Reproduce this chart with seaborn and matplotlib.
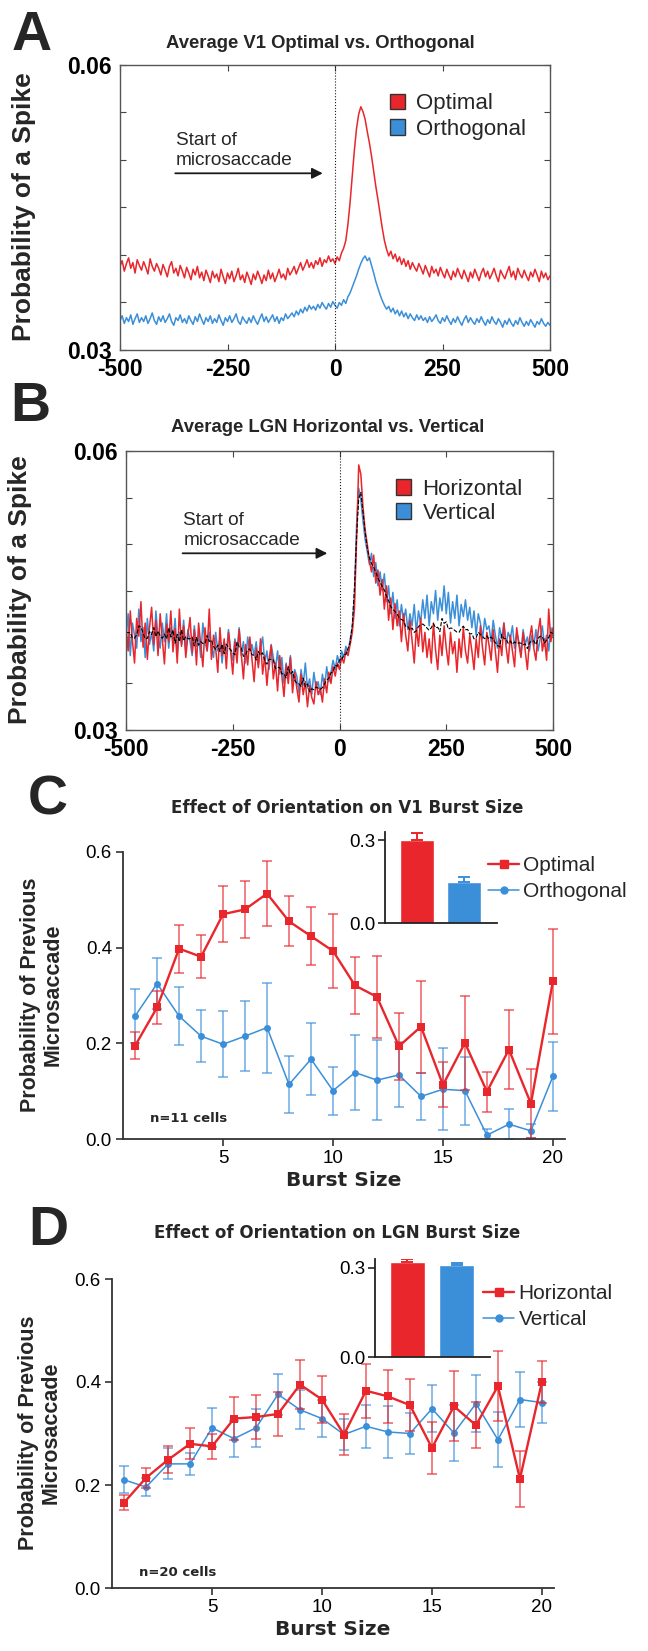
import numpy as np
import pandas as pd
import matplotlib
matplotlib.use('Agg')
import matplotlib.pyplot as plt
from matplotlib.patches import Patch
from matplotlib.lines import Line2D
import seaborn as sns

sns.set_theme(style='ticks')
plt.rcParams['font.family'] = ['Liberation Sans', 'DejaVu Sans']

RED = '#E8262B'
BLUE = '#3B8FD9'
WIDE = ['DejaVu Sans', 'Liberation Sans']

# ---- data -------------------------------------------------------------
time_ms = np.arange(-500, 501, 5)

# panel A, probability of a spike (x 1e-4), 5 ms bins
a_optimal = np.array([
    388, 394, 383, 391, 397, 386, 392, 381, 395, 389,
    384, 393, 387, 380, 396, 388, 383, 391, 386, 379,
    390, 384, 377, 388, 393, 381, 386, 378, 389, 383,
    376, 387, 381, 374, 385, 379, 388, 376, 382, 373,
    384, 378, 371, 383, 376, 380, 372, 385, 377, 370,
    381, 375, 383, 372, 378, 386, 374, 379, 371, 382,
    376, 369, 380, 374, 383, 377, 370, 379, 373, 384,
    375, 381, 372, 378, 385, 376, 380, 374, 386, 379,
    383, 388, 380, 386, 392, 384, 389, 395, 387, 392,
    386, 394, 390, 397, 388, 395, 392, 399, 393, 396,
    391, 398, 394, 402, 407, 415, 432, 455, 482, 510,
    533, 548, 556, 551, 543, 530, 518, 504, 488, 472,
    458, 443, 428, 415, 406, 399, 404, 396, 401, 393,
    398, 390, 396, 388, 394, 385, 392, 387, 383, 391,
    386, 380, 389, 383, 377, 388, 381, 385, 378, 387,
    381, 376, 385, 379, 374, 383, 377, 386, 380, 375,
    384, 378, 372, 382, 376, 385, 379, 373, 381, 386,
    377, 383, 375, 380, 386, 378, 372, 384, 379, 375,
    382, 388, 377, 383, 374, 386, 380, 376, 384, 378,
    373, 382, 377, 385, 379, 372, 383, 376, 381, 374,
    378]) / 10000

a_orthogonal = np.array([
    331, 336, 328, 334, 330, 337, 327, 333, 338, 329,
    334, 330, 336, 328, 333, 339, 331, 327, 335, 330,
    336, 329, 333, 338, 330, 326, 334, 331, 337, 329,
    333, 328, 336, 331, 327, 335, 330, 338, 332, 327,
    334, 330, 336, 328, 333, 329, 337, 331, 326, 334,
    330, 336, 329, 333, 338, 330, 327, 335, 331, 328,
    334, 329, 336, 331, 327, 333, 338, 330, 335, 329,
    333, 337, 330, 335, 328, 334, 331, 338, 333, 336,
    339, 335, 341, 337, 343, 339, 345, 341, 347, 343,
    346, 342, 348, 344, 350, 346, 343, 349, 345, 351,
    347, 344, 350, 347, 353, 349, 356, 360, 366, 372,
    378, 385, 391, 396, 399, 394, 397, 389, 381, 372,
    365, 358, 352, 347, 343, 346, 340, 344, 338, 342,
    336, 341, 335, 339, 333, 338, 334, 331, 337, 332,
    336, 331, 334, 329, 335, 330, 333, 337, 331, 328,
    334, 330, 336, 331, 327, 333, 329, 335, 330, 326,
    332, 336, 329, 334, 330, 327, 333, 329, 335, 330,
    326, 332, 328, 335, 330, 327, 333, 329, 324, 331,
    327, 333, 328, 325, 331, 327, 334, 329, 325, 330,
    326, 332, 328, 324, 330, 327, 333, 328, 325, 329,
    326]) / 10000

# panel B
b_horizontal = np.array([
    412, 385, 428, 396, 372, 420, 401, 438, 389, 415,
    376, 410, 432, 392, 418, 380, 425, 398, 371, 414,
    395, 428, 384, 409, 372, 430, 390, 412, 378, 402,
    421, 383, 408, 370, 415, 392, 368, 410, 385, 430,
    376, 402, 388, 362, 410, 380, 398, 366, 405, 385,
    360, 395, 372, 408, 381, 355, 392, 370, 400, 376,
    352, 388, 367, 398, 360, 380, 348, 375, 391, 355,
    372, 342, 380, 358, 336, 370, 350, 378, 340, 362,
    345, 330, 360, 338, 352, 325, 348, 335, 328, 352,
    338, 345, 330, 355, 340, 362, 350, 368, 358, 372,
    365, 378, 372, 385, 380, 392, 405, 430, 505, 585,
    575, 540, 515, 500, 482, 470, 488, 458, 472, 445,
    462, 430, 455, 418, 442, 408, 436, 412, 428, 395,
    425, 402, 385, 418, 396, 372, 410, 390, 420, 384,
    405, 378, 398, 372, 415, 386, 365, 402, 380, 412,
    388, 370, 405, 382, 395, 362, 398, 378, 410, 385,
    372, 402, 385, 365, 398, 378, 412, 388, 370, 405,
    392, 375, 408, 385, 362, 398, 380, 415, 390, 372,
    402, 385, 368, 410, 392, 378, 405, 385, 365, 398,
    412, 388, 375, 405, 420, 385, 398, 375, 430, 395,
    410]) / 10000

b_vertical = np.array([
    398, 425, 380, 415, 402, 388, 430, 395, 410, 378,
    420, 392, 405, 385, 428, 400, 388, 415, 395, 425,
    388, 410, 395, 420, 380, 405, 392, 418, 385, 408,
    395, 380, 412, 390, 402, 378, 415, 395, 385, 405,
    390, 378, 405, 385, 398, 372, 395, 382, 408, 385,
    375, 398, 385, 410, 380, 395, 372, 400, 385, 392,
    380, 395, 370, 388, 400, 372, 385, 365, 392, 378,
    365, 385, 360, 378, 350, 372, 358, 380, 352, 365,
    358, 340, 365, 348, 372, 345, 355, 338, 362, 345,
    352, 338, 360, 345, 368, 352, 362, 375, 365, 380,
    372, 385, 378, 390, 382, 398, 410, 445, 520, 560,
    548, 525, 505, 492, 478, 490, 465, 480, 455, 470,
    450, 468, 438, 455, 425, 448, 420, 440, 412, 435,
    418, 430, 408, 425, 412, 435, 405, 428, 415, 440,
    420, 445, 412, 438, 425, 450, 418, 442, 428, 455,
    425, 448, 415, 438, 420, 445, 412, 435, 422, 440,
    418, 432, 410, 428, 402, 425, 415, 398, 420, 408,
    412, 395, 418, 402, 388, 410, 398, 415, 392, 405,
    398, 412, 388, 405, 395, 382, 408, 392, 400, 385,
    402, 390, 408, 385, 398, 412, 390, 402, 385, 410,
    400]) / 10000

# panels C and D
burst_size = np.arange(1, 21)

c_optimal = [0.195, 0.275, 0.398, 0.381, 0.470, 0.480, 0.513, 0.455, 0.424, 0.393,
             0.321, 0.297, 0.194, 0.235, 0.113, 0.201, 0.099, 0.187, 0.074, 0.330]
c_optimal_err = [0.028, 0.035, 0.050, 0.045, 0.058, 0.060, 0.068, 0.052, 0.060, 0.078,
                 0.060, 0.085, 0.070, 0.096, 0.047, 0.098, 0.042, 0.083, 0.072, 0.110]
c_orthogonal = [0.257, 0.325, 0.257, 0.215, 0.198, 0.215, 0.233, 0.114, 0.167, 0.101,
                0.139, 0.123, 0.134, 0.089, 0.104, 0.101, 0.008, 0.031, 0.017, 0.131]
c_orthogonal_err = [0.057, 0.054, 0.060, 0.054, 0.069, 0.073, 0.094, 0.060, 0.075, 0.050,
                    0.078, 0.084, 0.068, 0.049, 0.086, 0.071, 0.012, 0.032, 0.015, 0.072]

d_horizontal = [0.166, 0.214, 0.249, 0.280, 0.275, 0.329, 0.332, 0.338, 0.395, 0.366,
                0.298, 0.383, 0.372, 0.355, 0.272, 0.353, 0.316, 0.392, 0.212, 0.400]
d_horizontal_err = [0.014, 0.019, 0.026, 0.030, 0.024, 0.041, 0.042, 0.043, 0.048, 0.046,
                    0.039, 0.052, 0.051, 0.051, 0.050, 0.068, 0.045, 0.068, 0.054, 0.040]
d_vertical = [0.210, 0.196, 0.241, 0.241, 0.311, 0.290, 0.311, 0.376, 0.346, 0.329,
              0.298, 0.314, 0.303, 0.300, 0.348, 0.301, 0.358, 0.288, 0.366, 0.360]
d_vertical_err = [0.026, 0.017, 0.030, 0.021, 0.038, 0.035, 0.037, 0.040, 0.038, 0.036,
                  0.030, 0.042, 0.050, 0.040, 0.046, 0.055, 0.055, 0.053, 0.053, 0.040]

c_inset_names = ['Optimal', 'Orthogonal']
c_inset_mean = [0.300, 0.150]
c_inset_err = [0.025, 0.016]
d_inset_names = ['Horizontal', 'Vertical']
d_inset_mean = [0.320, 0.310]
d_inset_err = [0.010, 0.008]

# ---- figure -----------------------------------------------------------
W, H = 648, 1651
fig = plt.figure(figsize=(W / 100, H / 100), dpi=100)


def box(l, t, r, b):
    return [l / W, 1 - b / H, (r - l) / W, (b - t) / H]


def ftext(x, y, s, **kw):
    fig.text(x / W, 1 - y / H, s, **kw)


def trace_panel(ax, series, colors):
    for vals, col in zip(series, colors):
        sns.lineplot(x=time_ms, y=vals, color=col, lw=1.1, ax=ax)
    ax.axvline(0, color='k', ls=':', lw=0.8)
    ax.set_xlim(-500, 500)
    ax.set_ylim(0.03, 0.06)
    ax.set_xticks([-500, -250, 0, 250, 500])
    ax.set_xticklabels(['-500', '-250', '0', '250', '500'])
    ax.set_yticks([0.03, 0.06])
    ax.set_yticklabels(['0.03', '0.06'])
    ax.set_yticks(np.arange(0.035, 0.0551, 0.005), minor=True)
    ax.tick_params(direction='in', top=True, right=True, length=4, width=0.8,
                   labelsize=16.5, pad=6, colors='#444', labelcolor='black')
    ax.tick_params(which='minor', direction='in', left=True, right=True, length=4, width=0.8, colors='#444')
    for lab in ax.get_xticklabels() + ax.get_yticklabels():
        lab.set_fontweight('bold')
    for sp in ax.spines.values():
        sp.set_color('#555')
        sp.set_linewidth(1.0)
    ax.set_xlabel('')
    ax.set_ylabel('')


# Panel A
axA = fig.add_axes(box(120, 65, 550, 350))
trace_panel(axA, [a_optimal, a_orthogonal], [RED, BLUE])
axA.annotate('', xy=(-22, 0.0486), xytext=(-378, 0.0486),
             arrowprops=dict(arrowstyle='-|>', color='k', lw=1.3, mutation_scale=16))
axA.text(-370, 0.0491, 'Start of\nmicrosaccade', fontsize=13.7, va='bottom', ha='left')
axA.legend(handles=[Patch(facecolor=RED, edgecolor='#333', label='Optimal'),
                    Patch(facecolor=BLUE, edgecolor='#333', label='Orthogonal')],
           loc='upper left', bbox_to_anchor=(0.627, 0.9), frameon=False, fontsize=16,
           handlelength=0.7, handleheight=0.7, handletextpad=0.5, labelspacing=0.2,
           borderpad=0, borderaxespad=0)
ftext(12, 50, 'A', fontsize=40, fontweight='bold', va='baseline')
ftext(320, 44, 'Average V1 Optimal vs. Orthogonal', fontsize=13.3, fontweight='bold',
      ha='center', va='center')
ftext(24, 207, 'Probability of a Spike', fontsize=19, fontweight='bold',
      rotation=90, ha='center', va='center')

# Panel B
axB = fig.add_axes(box(126, 451, 553, 730))
trace_panel(axB, [b_vertical, b_horizontal], [BLUE, RED])
b_mean = pd.Series((b_horizontal + b_vertical) / 2).rolling(3, center=True, min_periods=1).mean()
sns.lineplot(x=time_ms, y=b_mean.values, color='black', lw=0.8, linestyle='--', ax=axB)
axB.set_xlabel('')
axB.set_ylabel('')
axB.annotate('', xy=(-22, 0.0490), xytext=(-374, 0.0490),
             arrowprops=dict(arrowstyle='-|>', color='k', lw=1.3, mutation_scale=16))
axB.text(-366, 0.0495, 'Start of\nmicrosaccade', fontsize=13.7, va='bottom', ha='left')
axB.legend(handles=[Patch(facecolor=RED, edgecolor='#333', label='Horizontal'),
                    Patch(facecolor=BLUE, edgecolor='#333', label='Vertical')],
           loc='upper left', bbox_to_anchor=(0.632, 0.9), frameon=False, fontsize=16,
           handlelength=0.7, handleheight=0.7, handletextpad=0.5, labelspacing=0.12,
           borderpad=0, borderaxespad=0)
ftext(10, 421, 'B', fontsize=40, fontweight='bold', va='baseline')
ftext(328, 428, 'Average LGN Horizontal vs. Vertical', fontsize=13.3, fontweight='bold',
      ha='center', va='center')
ftext(20, 590, 'Probability of a Spike', fontsize=19, fontweight='bold',
      rotation=90, ha='center', va='center')


def burst_panel(ax, first, first_err, second, second_err):
    # second (blue) drawn first so red sits on top
    ax.errorbar(burst_size, second, yerr=second_err, fmt='none', ecolor=BLUE, alpha=0.75,
                capsize=3.5, elinewidth=1.1, capthick=1.1)
    sns.lineplot(x=burst_size, y=second, color=BLUE, lw=1.1, marker='o', markersize=5,
                 markeredgewidth=0, ax=ax)
    ax.errorbar(burst_size, first, yerr=first_err, fmt='none', ecolor=RED, alpha=0.75,
                capsize=3.5, elinewidth=1.1, capthick=1.1)
    sns.lineplot(x=burst_size, y=first, color=RED, lw=1.7, marker='s', markersize=5.5,
                 markeredgewidth=0, ax=ax)
    ax.set_xlim(0.45, 20.55)
    ax.set_ylim(0, 0.6)
    ax.set_xticks([5, 10, 15, 20])
    ax.set_yticks([0.0, 0.2, 0.4, 0.6])
    ax.set_yticklabels(['0.0', '0.2', '0.4', '0.6'])
    sns.despine(ax=ax)
    for sp in ['left', 'bottom']:
        ax.spines[sp].set_color('#333')
        ax.spines[sp].set_linewidth(1.3)
    ax.tick_params(length=5, width=1.2, labelsize=13.5, colors='#333', labelcolor='black', pad=3)
    ax.set_xlabel('Burst Size', fontsize=14.5, fontweight='bold', labelpad=3, family=WIDE)
    ax.set_ylabel('')


def inset_bars(ax, names, means, errs):
    cols = [RED, BLUE]
    sns.barplot(x=names, y=means, hue=names, palette=cols, width=0.71,
                legend=False, ax=ax, saturation=1)
    for i, (m, e) in enumerate(zip(means, errs)):
        ax.errorbar([i], [m], yerr=[[0], [e]], fmt='none', ecolor=cols[i],
                    capsize=4, elinewidth=1.4, capthick=1.4)
    ax.set_xlim(-0.66, 1.68)
    ax.set_ylim(0, 0.33)
    ax.set_xticks([])
    ax.set_yticks([0.0, 0.3])
    ax.set_yticklabels(['0.0', '0.3'])
    sns.despine(ax=ax)
    for sp in ['left', 'bottom']:
        ax.spines[sp].set_color('#222')
        ax.spines[sp].set_linewidth(1.3)
    ax.tick_params(length=5, width=1.2, labelsize=13.5, colors='#222', labelcolor='black', pad=2)
    ax.set_xlabel('')
    ax.set_ylabel('')
    ax.patch.set_alpha(0)


# Panel C
axC = fig.add_axes(box(123, 852, 565, 1139))
burst_panel(axC, c_optimal, c_optimal_err, c_orthogonal, c_orthogonal_err)
axC.text(0.06, 0.07, 'n=11 cells', transform=axC.transAxes, fontsize=9.5, fontweight='bold',
         va='center', family=WIDE)
axCi = fig.add_axes(box(385, 832, 497, 923))
inset_bars(axCi, c_inset_names, c_inset_mean, c_inset_err)
fig.legend(handles=[Line2D([], [], color=RED, lw=1.7, marker='s', markersize=5.5, label='Optimal'),
                    Line2D([], [], color=BLUE, lw=1.1, marker='o', markersize=5, label='Orthogonal')],
           loc='upper left', bbox_to_anchor=(488 / W, 1 - 856 / H), frameon=False, fontsize=15,
           handlelength=1.5, handletextpad=0.2, labelspacing=0.35, borderpad=0, borderaxespad=0)
ftext(28, 814, 'C', fontsize=40, fontweight='bold', va='baseline')
ftext(347, 808, 'Effect of Orientation on V1 Burst Size', fontsize=12, fontweight='bold',
      ha='center', va='center', family=WIDE)
ftext(42, 995, 'Probability of Previous\nMicrosaccade', fontsize=15.5, fontweight='bold',
      rotation=90, ha='center', va='center', linespacing=1.1)

# Panel D
axD = fig.add_axes(box(112, 1279, 554, 1588))
burst_panel(axD, d_horizontal, d_horizontal_err, d_vertical, d_vertical_err)
axD.text(0.06, 0.05, 'n=20 cells', transform=axD.transAxes, fontsize=9.5, fontweight='bold',
         va='center', family=WIDE)
axDi = fig.add_axes(box(375, 1259, 490, 1357))
inset_bars(axDi, d_inset_names, d_inset_mean, d_inset_err)
fig.legend(handles=[Line2D([], [], color=RED, lw=1.7, marker='s', markersize=5.5, label='Horizontal'),
                    Line2D([], [], color=BLUE, lw=1.1, marker='o', markersize=5, label='Vertical')],
           loc='upper left', bbox_to_anchor=(483 / W, 1 - 1284 / H), frameon=False, fontsize=15,
           handlelength=1.5, handletextpad=0.2, labelspacing=0.35, borderpad=0, borderaxespad=0)
ftext(28, 1245, 'D', fontsize=40, fontweight='bold', va='baseline')
ftext(337, 1233, 'Effect of Orientation on LGN Burst Size', fontsize=12, fontweight='bold',
      ha='center', va='center', family=WIDE)
ftext(40, 1433, 'Probability of Previous\nMicrosaccade', fontsize=15.5, fontweight='bold',
      rotation=90, ha='center', va='center', linespacing=1.1)

fig.savefig('out.png', dpi=100)
